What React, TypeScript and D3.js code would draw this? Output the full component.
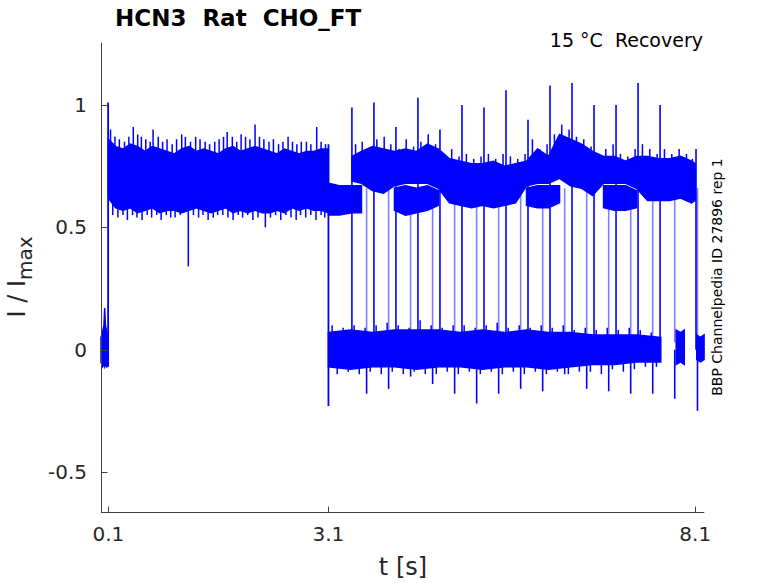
import { useEffect, useRef } from "react";
import * as d3 from "d3";

// ---- data (t in s, I/Imax) ----

// holding level before the first pulse
const preTime = [0, 0.02, 0.04, 0.05, 0.06, 0.08, 0.095];
const preTop = [0.05, 0.07, 0.1, 0.17, 0.1, 0.07, 0.06];
const preBottom = [-0.05, -0.07, -0.06, -0.07, -0.06, -0.07, -0.06];

// first pulse, dense core of the noise
const pulse1Time = [
  0.1, 0.2, 0.3, 0.4, 0.5, 0.6, 0.7, 0.8, 0.9, 1.0, 1.1, 1.2, 1.3, 1.4, 1.5, 1.6,
  1.7, 1.8, 1.9, 2.0, 2.1, 2.2, 2.3, 2.4, 2.5, 2.6, 2.7, 2.8, 2.9, 3.0, 3.1,
];
const pulse1Top = [
  0.86, 0.83, 0.82, 0.84, 0.83, 0.81, 0.83, 0.82, 0.81, 0.8, 0.82, 0.83, 0.81, 0.82, 0.81, 0.8,
  0.82, 0.83, 0.81, 0.82, 0.83, 0.82, 0.81, 0.8, 0.82, 0.81, 0.8, 0.81, 0.81, 0.82, 0.82,
];
const pulse1Bottom = [
  0.62, 0.58, 0.57, 0.58, 0.56, 0.57, 0.58, 0.56, 0.57, 0.57, 0.56, 0.57, 0.58, 0.57, 0.56, 0.57,
  0.58, 0.56, 0.57, 0.56, 0.57, 0.56, 0.56, 0.57, 0.56, 0.58, 0.57, 0.58, 0.57, 0.57, 0.56,
];
// noise tips above and below the core
const p1UpTime = [
  0.13, 0.19, 0.25, 0.32, 0.38, 0.44, 0.5, 0.55, 0.61, 0.67, 0.71, 0.78, 0.84, 0.9, 0.97, 1.03,
  1.1, 1.15, 1.22, 1.29, 1.35, 1.42, 1.48, 1.55, 1.61, 1.67, 1.72, 1.79, 1.85, 1.91, 1.97, 2.03,
  2.1, 2.16, 2.22, 2.29, 2.35, 2.42, 2.48, 2.55, 2.61, 2.67, 2.73, 2.8, 2.86, 2.94, 3.0, 3.06,
];
const p1UpValue = [
  0.9, 0.87, 0.86, 0.85, 0.87, 0.91, 0.88, 0.87, 0.86, 0.85, 0.9, 0.87, 0.85, 0.86, 0.84, 0.86,
  0.88, 0.87, 0.85, 0.87, 0.86, 0.85, 0.84, 0.85, 0.86, 0.87, 0.89, 0.87, 0.85, 0.88, 0.87, 0.86,
  0.92, 0.87, 0.86, 0.85, 0.86, 0.84, 0.85, 0.87, 0.85, 0.84, 0.85, 0.85, 0.84, 0.91, 0.85, 0.84,
];
const p1DownTime = [
  0.16, 0.23, 0.3, 0.36, 0.43, 0.49, 0.56, 0.63, 0.69, 0.76, 0.82, 0.89, 0.95, 1.01, 1.08,
  1.19, 1.26, 1.33, 1.39, 1.46, 1.53, 1.59, 1.66, 1.73, 1.8, 1.87, 1.93, 2.0, 2.07, 2.14,
  2.24, 2.31, 2.38, 2.45, 2.52, 2.59, 2.66, 2.72, 2.79, 2.86, 2.93, 3.0, 3.05,
];
const p1DownValue = [
  0.55, 0.54, 0.55, 0.53, 0.55, 0.54, 0.53, 0.55, 0.54, 0.55, 0.53, 0.55, 0.54, 0.54, 0.55,
  0.34, 0.55, 0.54, 0.55, 0.53, 0.54, 0.55, 0.55, 0.54, 0.53, 0.55, 0.54, 0.55, 0.53, 0.54,
  0.5, 0.54, 0.55, 0.53, 0.55, 0.54, 0.53, 0.55, 0.54, 0.55, 0.53, 0.55, 0.54,
];

// after the first pulse: upper (open) and lower clusters of the sweeps
const postTime = [
  3.1, 3.25, 3.42, 3.55, 3.7, 3.85, 4.0, 4.15, 4.3, 4.45, 4.6, 4.75, 4.9, 5.05, 5.2, 5.35, 5.5,
  5.65, 5.8, 5.95, 6.1, 6.25, 6.4, 6.55, 6.7, 6.85, 7.0, 7.15, 7.3, 7.45, 7.6, 7.75, 7.9, 8.05, 8.1,
];
const upperTop = [
  null, null, 0.79, 0.81, 0.83, 0.82, 0.81, 0.82, 0.81, 0.84, 0.82, 0.78, 0.77, 0.76, 0.76, 0.77, 0.75,
  0.76, 0.77, 0.82, 0.79, 0.88, 0.86, 0.84, 0.81, 0.79, 0.79, 0.77, 0.79, 0.79, 0.78, 0.78, 0.79, 0.77, 0.76,
];
const upperBottom = [
  null, null, 0.69, 0.68, 0.65, 0.64, 0.67, 0.68, 0.68, 0.68, 0.66, 0.6, 0.59, 0.58, 0.59, 0.58, 0.59,
  0.6, 0.67, 0.68, 0.68, 0.7, 0.67, 0.66, 0.63, 0.68, 0.68, 0.68, 0.66, 0.61, 0.61, 0.61, 0.62, 0.6, 0.61,
];
const lowerTop = [
  0.68, 0.67, 0.67, 0.67, null, null, 0.66, 0.67, 0.66, 0.67, 0.65, null, null, null, null, null, null,
  null, 0.66, 0.67, 0.67, 0.67, null, null, null, 0.67, 0.67, 0.67, 0.65, null, null, null, null, null, null,
];
const lowerBottom = [
  0.55, 0.55, 0.56, 0.56, null, null, 0.57, 0.55, 0.56, 0.57, 0.59, null, null, null, null, null, null,
  null, 0.59, 0.58, 0.58, 0.6, null, null, null, 0.58, 0.57, 0.57, 0.58, null, null, null, null, null, null,
];
const upSpikeTime = [
  3.47, 3.56, 3.66, 3.76, 3.86, 3.95, 4.06, 4.16, 4.26, 4.36, 4.46, 4.56, 4.68, 4.78, 4.88, 4.98,
  5.08, 5.18, 5.28, 5.38, 5.48, 5.58, 5.68, 5.78, 5.88, 5.98, 6.08, 6.18, 6.28, 6.38, 6.48, 6.58,
  6.68, 6.78, 6.88, 6.98, 7.08, 7.18, 7.28, 7.38, 7.48, 7.58, 7.68, 7.78, 7.88, 7.98, 8.06,
];
const upSpikeValue = [
  0.84, 0.85, 0.8, 0.86, 0.87, 0.84, 0.82, 0.86, 0.83, 0.85, 0.88, 0.84, 0.8, 0.82, 0.79, 0.8,
  0.78, 0.79, 0.8, 0.78, 0.8, 0.79, 0.78, 0.8, 0.86, 0.82, 0.84, 0.88, 0.92, 0.9, 0.87, 0.86,
  0.83, 0.8, 0.82, 0.84, 0.8, 0.79, 0.82, 0.84, 0.82, 0.8, 0.82, 0.8, 0.82, 0.8, 0.78,
];

// closed level between pulses
const baseTime = [3.1, 3.4, 3.7, 4.0, 4.3, 4.6, 4.9, 5.2, 5.5, 5.8, 6.1, 6.4, 6.7, 7.0, 7.3, 7.63];
const baseTop = [0.07, 0.08, 0.07, 0.08, 0.08, 0.08, 0.07, 0.08, 0.07, 0.08, 0.07, 0.07, 0.06, 0.06, 0.06, 0.05];
const baseBottom = [-0.07, -0.08, -0.07, -0.07, -0.08, -0.07, -0.07, -0.08, -0.07, -0.07, -0.08, -0.07, -0.06, -0.06, -0.05, -0.05];
const baseUpTime = [
  3.15, 3.3, 3.45, 3.6, 3.75, 3.9, 4.05, 4.2, 4.35, 4.5, 4.65, 4.8, 4.95, 5.1, 5.25,
  5.4, 5.55, 5.7, 5.85, 6.0, 6.15, 6.3, 6.45, 6.6, 6.75, 6.9, 7.05, 7.2, 7.35, 7.5,
];
const baseUpValue = [
  0.1, 0.09, 0.1, 0.09, 0.1, 0.11, 0.1, 0.09, 0.12, 0.1, 0.09, 0.1, 0.1, 0.09, 0.1,
  0.11, 0.09, 0.1, 0.09, 0.1, 0.09, 0.1, 0.08, 0.09, 0.08, 0.09, 0.08, 0.09, 0.08, 0.07,
];
const baseDownTime = [
  3.22, 3.37, 3.52, 3.67, 3.82, 3.97, 4.12, 4.27, 4.42, 4.57, 4.72, 4.87, 5.02, 5.17, 5.32,
  5.47, 5.62, 5.77, 5.92, 6.07, 6.22, 6.37, 6.52, 6.67, 6.82, 6.97, 7.12, 7.27, 7.42, 7.57,
];
const baseDownValue = [
  -0.1, -0.09, -0.1, -0.09, -0.1, -0.09, -0.1, -0.09, -0.1, -0.1, -0.09, -0.1, -0.09, -0.1, -0.09,
  -0.1, -0.09, -0.1, -0.09, -0.1, -0.09, -0.1, -0.09, -0.09, -0.1, -0.08, -0.09, -0.08, -0.07, -0.07,
];
const tailTime = [7.84, 7.9, 7.95, 8.12, 8.17, 8.22];
const tailTop = [0.08, 0.07, 0.08, 0.06, 0.05, 0.06];
const tailBottom = [-0.06, -0.05, -0.06, -0.04, -0.05, -0.04];

// second pulse onsets (peaks) and ends (tail dips)
const onsetTime = [3.42, 3.72, 4.02, 4.32, 4.62, 4.92, 5.22, 5.52, 5.82, 6.12, 6.42, 6.72, 7.02, 7.32, 7.62, 8.11];
const onsetPeak = [0.99, 1.01, 0.91, 1.03, 0.9, 1.0, 0.99, 1.06, 0.94, 1.08, 1.09, 1.0, 1.0, 1.09, 1.0, 0.82];
const offTime = [3.62, 3.92, 4.22, 4.52, 4.82, 5.12, 5.42, 5.72, 6.02, 6.32, 6.62, 6.92, 7.22, 7.52, 7.82, 8.13];
const offDip = [-0.18, -0.16, -0.11, -0.14, -0.18, -0.22, -0.18, -0.16, -0.17, -0.1, -0.16, -0.17, -0.18, -0.18, -0.2, -0.25];

const xTicks = [0.1, 3.1, 8.1];
const yTicks = [-0.5, 0, 0.5, 1];

const BLUE = "#0000ff";
const FONT = "DejaVu Sans, sans-serif";

type Row = { t: number; top: number | null; bottom: number | null };
const zip = (t: number[], top: (number | null)[], bottom: (number | null)[]): Row[] =>
  t.map((v, i) => ({ t: v, top: top[i], bottom: bottom[i] }));

export default function App() {
  const svgRef = useRef<SVGSVGElement>(null);

  useEffect(() => {
    if (!svgRef.current) return;
    const svg = d3.select(svgRef.current);
    svg.selectAll("*").remove();

    const x = d3.scaleLinear().domain([0, 8.223]).range([101, 704.3]);
    const y = d3.scaleLinear().domain([-0.6645, 1.2546]).range([512.3, 42.7]);

    const area = d3
      .area<Row>()
      .defined((d) => d.top != null && d.bottom != null)
      .x((d) => x(d.t))
      .y0((d) => y(d.bottom as number))
      .y1((d) => y(d.top as number));

    const plot = svg.append("g");
    const band = (rows: Row[]) =>
      plot
        .append("path")
        .datum(rows)
        .attr("fill", BLUE)
        .attr("stroke", BLUE)
        .attr("stroke-width", 1.5)
        .attr("d", area);

    band(zip(preTime, preTop, preBottom));
    band(zip(pulse1Time, pulse1Top, pulse1Bottom));
    band(zip(baseTime, baseTop, baseBottom));
    band(zip(tailTime.slice(0, 3), tailTop.slice(0, 3), tailBottom.slice(0, 3)));
    band(zip(tailTime.slice(3), tailTop.slice(3), tailBottom.slice(3)));
    band(zip(postTime, lowerTop, lowerBottom));
    band(zip(postTime, upperTop, upperBottom));

    const vline = (t: number, v0: number, v1: number, opacity = 1, w = 1.5) =>
      plot
        .append("line")
        .attr("x1", x(t))
        .attr("x2", x(t))
        .attr("y1", y(v0))
        .attr("y2", y(v1))
        .attr("stroke", BLUE)
        .attr("stroke-opacity", opacity)
        .attr("stroke-width", w);

    // noise tips
    p1UpTime.forEach((t, i) => vline(t, 0.72, p1UpValue[i]));
    p1DownTime.forEach((t, i) => vline(t, 0.66, p1DownValue[i]));
    upSpikeTime.forEach((t, i) => vline(t, 0.72, upSpikeValue[i]));
    baseUpTime.forEach((t, i) => vline(t, 0, baseUpValue[i]));
    baseDownTime.forEach((t, i) => vline(t, 0, baseDownValue[i]));

    // first pulse on / off
    vline(0.097, -0.07, 1.01, 1, 1.8);
    vline(3.1, 0.84, -0.23, 1, 1.8);

    // second pulses
    onsetTime.forEach((t, i) => vline(t, 0, onsetPeak[i], 1, 1.6));
    offTime.forEach((t, i) => {
      vline(t, 0.66, 0.03, 0.5, 1.6);
      vline(t, 0, offDip[i], 1, 1.6);
    });

    // axes
    const axis = svg.append("g").attr("stroke", "#404040").attr("stroke-width", 1);
    axis.append("line").attr("x1", 101.5).attr("x2", 101.5).attr("y1", 42.7).attr("y2", 512.5);
    axis.append("line").attr("x1", 101).attr("x2", 704.3).attr("y1", 512.5).attr("y2", 512.5);
    xTicks.forEach((t) => {
      const px = Math.round(x(t)) + 0.5;
      axis.append("line").attr("x1", px).attr("x2", px).attr("y1", 512.5).attr("y2", 506.5);
    });
    yTicks.forEach((v) => {
      const py = Math.round(y(v)) + 0.5;
      axis.append("line").attr("x1", 101.5).attr("x2", 107.5).attr("y1", py).attr("y2", py);
    });

    const labels = svg.append("g").attr("font-family", FONT).attr("fill", "#262626");
    xTicks.forEach((t) => {
      labels
        .append("text")
        .attr("x", x(t))
        .attr("y", 541)
        .attr("text-anchor", "middle")
        .attr("font-size", 20)
        .text(String(t));
    });
    yTicks.forEach((v) => {
      labels
        .append("text")
        .attr("x", 87)
        .attr("y", y(v) + 7)
        .attr("text-anchor", "end")
        .attr("font-size", 20)
        .text(String(v));
    });

    labels
      .append("text")
      .attr("x", 403)
      .attr("y", 575)
      .attr("text-anchor", "middle")
      .attr("font-size", 24)
      .text("t [s]");

    const yl = labels
      .append("text")
      .attr("transform", "translate(25,277) rotate(-90)")
      .attr("text-anchor", "middle")
      .attr("font-size", 24);
    yl.append("tspan").text("I / I");
    yl.append("tspan").attr("font-size", 20).attr("dy", 7).text("max");

    // title and notes
    svg
      .append("text")
      .attr("x", 115)
      .attr("y", 26)
      .attr("font-family", FONT)
      .attr("font-weight", "bold")
      .attr("font-size", 23)
      .attr("fill", "#000")
      .style("white-space", "pre")
      .text("HCN3  Rat  CHO_FT");

    svg
      .append("text")
      .attr("x", 703)
      .attr("y", 47)
      .attr("text-anchor", "end")
      .attr("font-family", FONT)
      .attr("font-size", 19)
      .attr("fill", "#000")
      .style("white-space", "pre")
      .text("15 °C  Recovery");

    svg
      .append("text")
      .attr("transform", "translate(722,277) rotate(-90)")
      .attr("text-anchor", "middle")
      .attr("font-family", FONT)
      .attr("font-size", 14)
      .attr("fill", "#000")
      .text("BBP Channelpedia ID 27896 rep 1");
  }, []);

  return (
    <svg
      ref={svgRef}
      width={778}
      height={583}
      style={{ position: "absolute", left: 0, top: 0, background: "#fff" }}
    />
  );
}
